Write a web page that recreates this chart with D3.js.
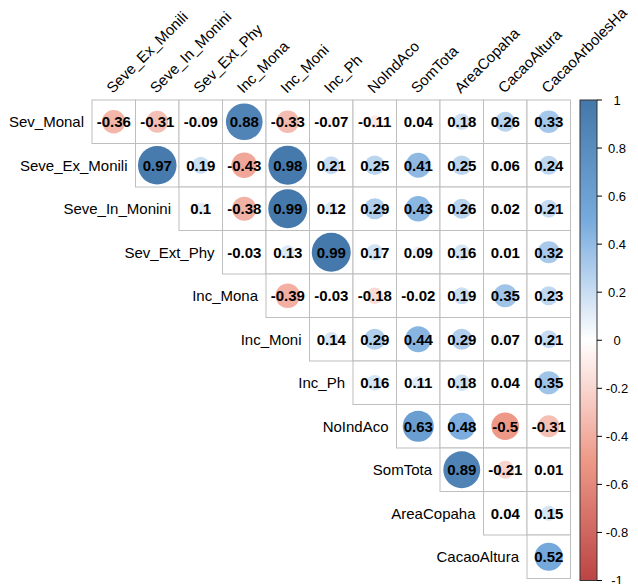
<!DOCTYPE html>
<html>
<head>
<meta charset="utf-8">
<script src="https://cdn.jsdelivr.net/npm/d3@7"></script>
<style>
  html, body { margin: 0; padding: 0; background: #fff; }
  svg { display: block; font-family: "Liberation Sans", Arial, Helvetica, sans-serif; }
</style>
</head>
<body>
<svg id="chart" width="638" height="584"></svg>
<script>
// Variables (rows use all but the last, columns all but the first)
const variables = ["Sev_Monal", "Seve_Ex_Monili", "Seve_In_Monini", "Sev_Ext_Phy",
  "Inc_Mona", "Inc_Moni", "Inc_Ph", "NoIndAco", "SomTota", "AreaCopaha",
  "CacaoAltura", "CacaoArbolesHa"];

// Upper-triangle correlations, one row per variable (values right of the diagonal)
const rSevMonal     = [-0.36, -0.31, -0.09, 0.88, -0.33, -0.07, -0.11, 0.04, 0.18, 0.26, 0.33];
const rSeveExMonili = [0.97, 0.19, -0.43, 0.98, 0.21, 0.25, 0.41, 0.25, 0.06, 0.24];
const rSeveInMonini = [0.1, -0.38, 0.99, 0.12, 0.29, 0.43, 0.26, 0.02, 0.21];
const rSevExtPhy    = [-0.03, 0.13, 0.99, 0.17, 0.09, 0.16, 0.01, 0.32];
const rIncMona      = [-0.39, -0.03, -0.18, -0.02, 0.19, 0.35, 0.23];
const rIncMoni      = [0.14, 0.29, 0.44, 0.29, 0.07, 0.21];
const rIncPh        = [0.16, 0.11, 0.18, 0.04, 0.35];
const rNoIndAco     = [0.63, 0.48, -0.5, -0.31];
const rSomTota      = [0.89, -0.21, 0.01];
const rAreaCopaha   = [0.04, 0.15];
const rCacaoAltura  = [0.52];
const upperRows = [rSevMonal, rSeveExMonili, rSeveInMonini, rSevExtPhy, rIncMona,
  rIncMoni, rIncPh, rNoIndAco, rSomTota, rAreaCopaha, rCacaoAltura];

// Colour legend ticks
const legendTicks = [1, 0.8, 0.6, 0.4, 0.2, 0, -0.2, -0.4, -0.6, -0.8, -1];

// Palette
const paletteStops = [-1, -0.5, 0, 0.5, 1];
const paletteColors = ["#BB4444", "#EE9988", "#FFFFFF", "#77AADD", "#4477AA"];

const rowNames = variables.slice(0, -1);
const colNames = variables.slice(1);

const cells = [];
upperRows.forEach((vals, i) => {
  vals.forEach((v, k) => {
    cells.push({ row: rowNames[i], col: colNames[i + k], value: v });
  });
});

const svg = d3.select("#chart");
const gridLeft = 92, gridTop = 100, cellSize = 43.5;

const x = d3.scaleBand().domain(colNames).range([gridLeft, gridLeft + cellSize * colNames.length]);
const y = d3.scaleBand().domain(rowNames).range([gridTop, gridTop + cellSize * rowNames.length]);
const color = d3.scaleLinear().domain(paletteStops).range(paletteColors).interpolate(d3.interpolateRgb);
const radius = d3.scaleSqrt().domain([0, 1]).range([0, x.bandwidth() * 0.45]);

// Cell borders
svg.append("g").selectAll("rect").data(cells).join("rect")
  .attr("x", d => x(d.col))
  .attr("y", d => y(d.row))
  .attr("width", x.bandwidth())
  .attr("height", y.bandwidth())
  .attr("fill", "#fff")
  .attr("stroke", "#BEBEBE")
  .attr("stroke-width", 1);

// Circles: area proportional to |r|
svg.append("g").selectAll("circle").data(cells).join("circle")
  .attr("cx", d => x(d.col) + x.bandwidth() / 2)
  .attr("cy", d => y(d.row) + y.bandwidth() / 2)
  .attr("r", d => radius(Math.abs(d.value)))
  .attr("fill", d => color(d.value));

// Coefficient labels
svg.append("g").selectAll("text").data(cells).join("text")
  .attr("x", d => x(d.col) + x.bandwidth() / 2)
  .attr("y", d => y(d.row) + y.bandwidth() / 2)
  .attr("dy", "0.36em")
  .attr("text-anchor", "middle")
  .attr("font-size", 15)
  .attr("font-weight", "bold")
  .attr("fill", "#000")
  .text(d => String(d.value));

// Row labels, next to the first cell of each row
svg.append("g").selectAll("text").data(rowNames).join("text")
  .attr("x", (d, i) => x(colNames[i]) - 8)
  .attr("y", d => y(d) + y.bandwidth() / 2)
  .attr("dy", "0.36em")
  .attr("text-anchor", "end")
  .attr("font-size", 15)
  .attr("fill", "#000")
  .text(d => d);

// Column labels, rotated 45 degrees
svg.append("g").selectAll("text").data(colNames).join("text")
  .attr("transform", d => `translate(${x(d) + x.bandwidth() / 2 - 1},${gridTop - 6}) rotate(-45)`)
  .attr("text-anchor", "start")
  .attr("font-size", 15)
  .attr("fill", "#000")
  .text(d => d);

// Colour legend
const barX = 580, barW = 17;
const ly = d3.scaleLinear().domain([1, -1]).range([gridTop, gridTop + cellSize * rowNames.length + 2]);
const defs = svg.append("defs");
const grad = defs.append("linearGradient").attr("id", "corrGrad")
  .attr("x1", 0).attr("y1", 0).attr("x2", 0).attr("y2", 1);
grad.selectAll("stop").data(paletteStops.slice().reverse()).join("stop")
  .attr("offset", d => (1 - d) / 2)
  .attr("stop-color", d => color(d));

svg.append("rect")
  .attr("x", barX).attr("y", ly(1))
  .attr("width", barW).attr("height", ly(-1) - ly(1))
  .attr("fill", "url(#corrGrad)")
  .attr("stroke", "#333")
  .attr("stroke-width", 1);

const lg = svg.append("g");
lg.selectAll("line").data(legendTicks).join("line")
  .attr("x1", barX + barW).attr("x2", barX + barW + 5)
  .attr("y1", d => ly(d)).attr("y2", d => ly(d))
  .attr("stroke", "#000").attr("stroke-width", 1);
lg.selectAll("text").data(legendTicks).join("text")
  .attr("x", 617)
  .attr("y", d => ly(d))
  .attr("dy", "0.36em")
  .attr("text-anchor", "middle")
  .attr("font-size", 13)
  .attr("fill", "#000")
  .text(d => String(d));
</script>
</body>
</html>
